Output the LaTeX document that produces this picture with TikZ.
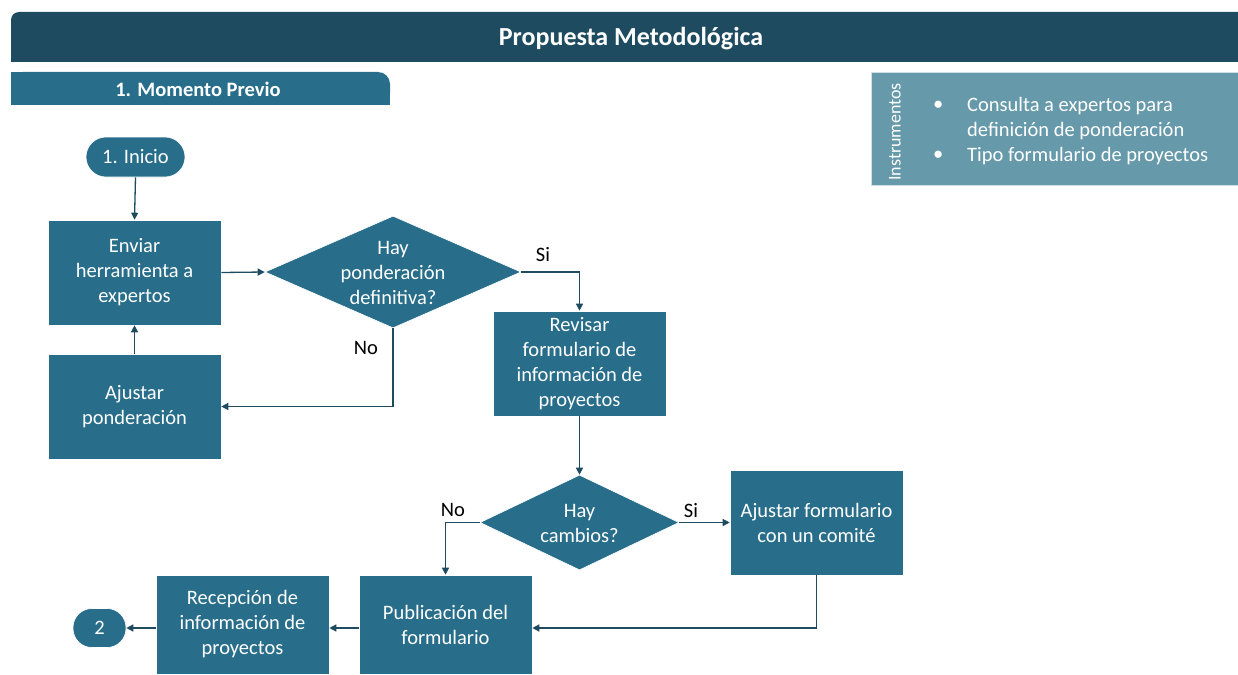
\documentclass[tikz,border=0pt]{standalone}
\usepackage{fontspec}
\setmainfont{Carlito}
\usetikzlibrary{arrows.meta,shapes.geometric}
\definecolor{darkbar}{RGB}{30,75,95}
\definecolor{boxfill}{RGB}{40,110,138}
\definecolor{instfill}{RGB}{102,153,170}
\definecolor{linec}{RGB}{30,75,95}
\tikzset{
  procbox/.style={rectangle, fill=boxfill, draw=white, line width=0.6pt, minimum width=173pt, minimum height=105pt, inner sep=0pt, text=white, align=center, font=\fontsize{20.5}{25}\selectfont},
  pill/.style={rectangle, rounded corners=20pt, fill=boxfill, draw=white, line width=0.6pt, inner sep=0pt, text=white, font=\fontsize{20.5}{25}\selectfont},
  decis/.style={diamond, fill=boxfill, draw=white, line width=0.6pt, inner sep=0pt},
  dtext/.style={text=white, align=center, font=\fontsize{20.5}{25}\selectfont, inner sep=0pt},
  conn/.style={draw=linec, line width=1.3pt, -{Triangle[length=7pt,width=7pt]}},
  lbl/.style={text=black, font=\fontsize{20.5}{24}\selectfont, inner sep=0pt},
  insttext/.style={text=white, font=\fontsize{20.5}{24}\selectfont, inner sep=0pt, anchor=west},
}
\begin{document}
\begin{tikzpicture}[x=1pt,y=-1pt]
\useasboundingbox (0,0) rectangle (1238,674);
% title bar
\fill[darkbar, rounded corners=8pt] (11,12) rectangle (1250,62);
\fill[darkbar] (11,40) rectangle (1238,62);
\node[text=white, font=\fontsize{26}{30}\selectfont\bfseries] (title) at (631,39) {Propuesta Metodológica};
% section bar
\fill[boxfill, rounded corners=12pt] (11,72) rectangle (390,105);
\fill[boxfill] (11,72) rectangle (40,105);
\fill[boxfill] (11,90) rectangle (390,105);
\node[text=white, font=\fontsize{20.5}{24}\selectfont\bfseries] (sect) at (198,89) {1. Momento Previo};
% instruments box
\fill[instfill] (871,72) rectangle (1238,185);
\draw[white!70!instfill, line width=0.6pt] (871,72) rectangle (1238,185);
\node[rotate=90, text=white, font=\fontsize{18}{21}\selectfont, inner sep=0pt] (instr) at (895,132) {Instrumentos};
\node[insttext] (b1) at (933,106) {•};
\node[insttext] (i1) at (967,106) {Consulta a expertos para};
\node[insttext] (i2) at (967,131) {definición de ponderación};
\node[insttext] (b2) at (933,156) {•};
\node[insttext] (i3) at (967,156) {Tipo formulario de proyectos};
% nodes
\node[pill, minimum width=99pt, minimum height=40pt] (inicio) at (135.5,157) {1. Inicio};
\node[procbox] (enviar) at (134.5,272.5) {Enviar\\herramienta a\\expertos};
\node[procbox] (ajpond) at (134.5,406.5) {Ajustar\\ponderación};
\node[decis, minimum width=256pt, minimum height=112pt] (d1) at (393,272) {};
\node[dtext] (d1t) at (393,273) {Hay\\ponderación\\definitiva?};
\node[procbox] (revisar) at (579.5,363.5) {Revisar\\formulario de\\información de\\proyectos};
\node[decis, minimum width=199pt, minimum height=95pt] (d2) at (579.5,522.5) {};
\node[dtext] (d2t) at (579.5,523) {Hay\\cambios?};
\node[procbox] (ajform) at (816.5,522.5) {Ajustar formulario\\con un comité};
\node[procbox, minimum height=99pt] (public) at (445.5,624.5) {Publicación del\\formulario};
\node[procbox, minimum height=99pt] (recep) at (242.5,624.5) {Recepción de\\información de\\proyectos};
\node[pill, minimum width=53pt, minimum height=39pt, rounded corners=19pt] (fin) at (99.5,628) {2};
% connectors
\draw[conn] (inicio.south) -- (enviar.north);
\draw[conn] (enviar.east) -- (d1.west);
\draw[conn] (d1.east) -| (revisar.north);
\draw[conn] (d1.south) |- (ajpond.east);
\draw[conn] (ajpond.north) -- (enviar.south);
\draw[conn] (revisar.south) -- (d2.north);
\draw[conn] (d2.east) -- (ajform.west);
\draw[conn] (d2.west) -| (public.north);
\draw[conn] (ajform.south) |- ([yshift=-3.5pt]public.east);
\draw[conn] ([yshift=-3.5pt]public.west) -- ([yshift=-3.5pt]recep.east);
\draw[conn] ([yshift=-3.5pt]recep.west) -- (fin.east);
% labels
\node[lbl] (si1) at (543,255) {Si};
\node[lbl] (no1) at (366,348) {No};
\node[lbl] (no2) at (453,510) {No};
\node[lbl] (si2) at (691,511) {Si};
\end{tikzpicture}
\end{document}
